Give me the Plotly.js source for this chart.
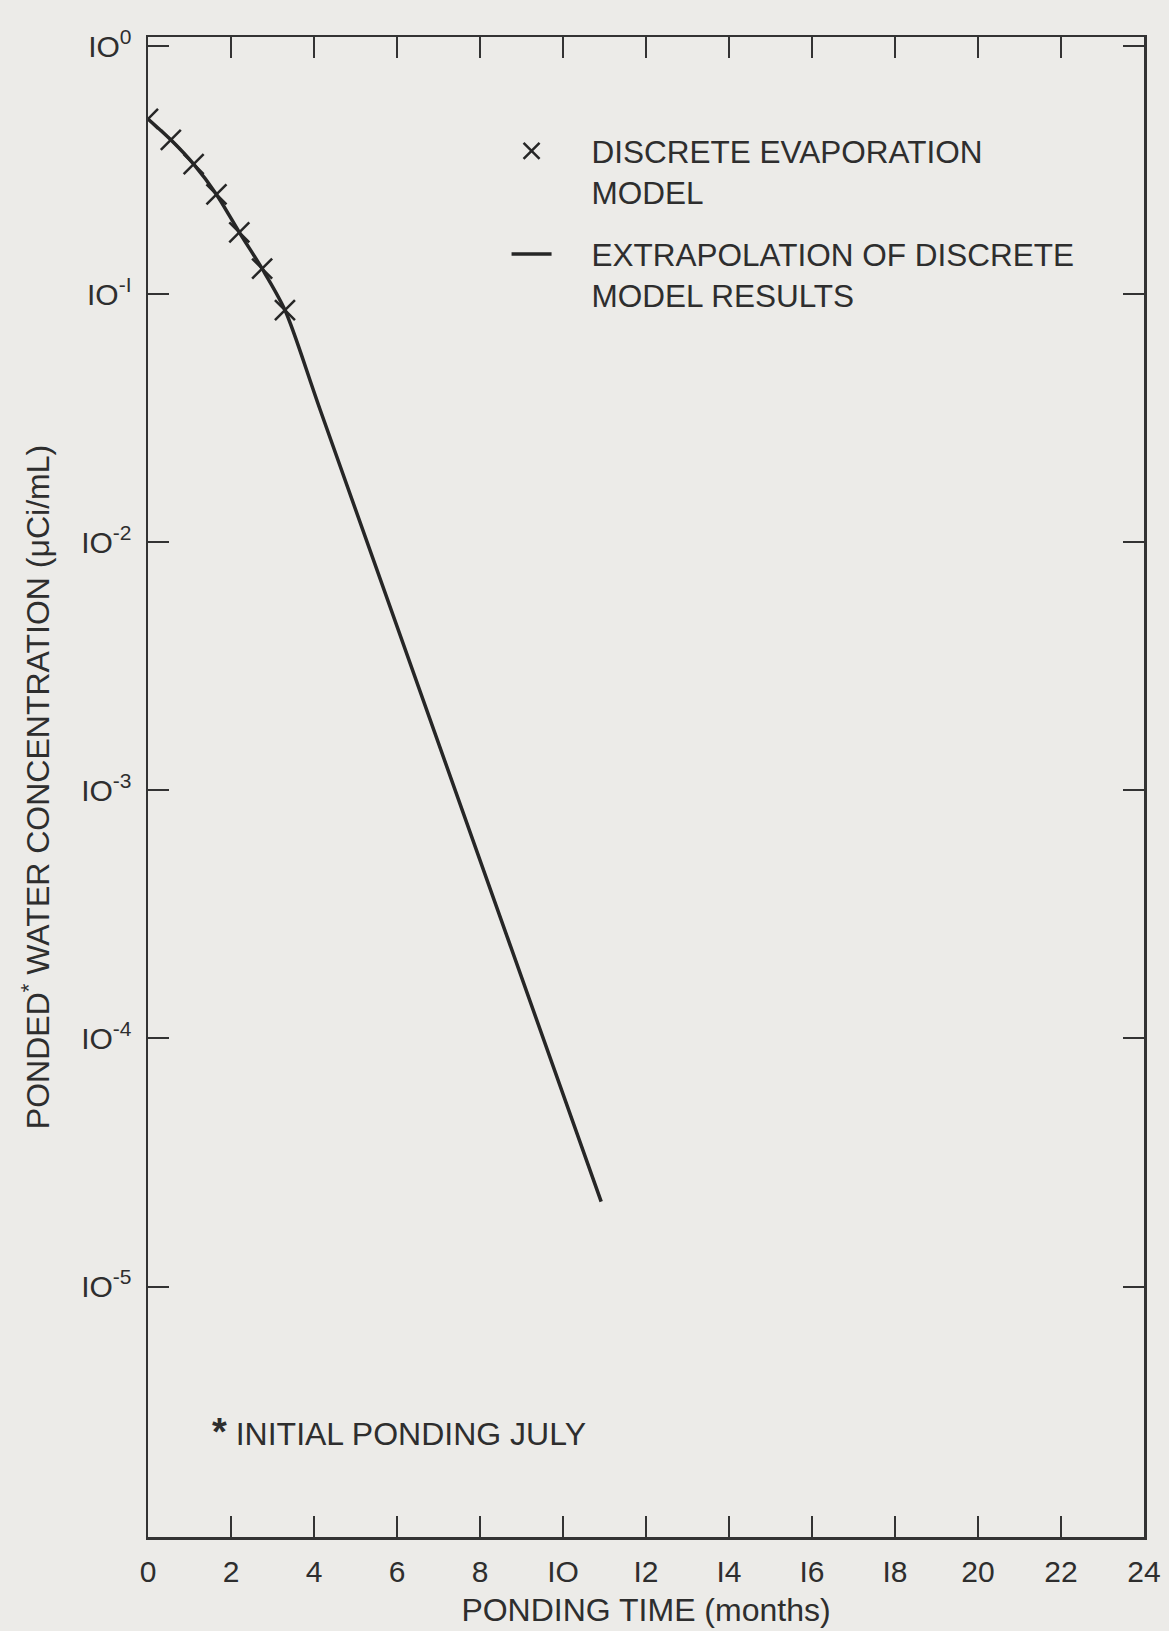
<!DOCTYPE html>
<html>
<head>
<meta charset="utf-8">
<script src="https://cdn.plot.ly/plotly-3.0.1.min.js"></script>
<style>
html,body{margin:0;padding:0;background:#ecebe8;}
#chart{width:1169px;height:1631px;}
</style>
</head>
<body>
<div id="chart"></div>
<script>
// Discrete evaporation model results (x markers)
const discreteTime = [0, 0.55, 1.1, 1.65, 2.2, 2.75, 3.3];
const discreteConc = [0.51, 0.42, 0.335, 0.253, 0.178, 0.127, 0.0865];

// Extrapolation of discrete model results (solid line)
const extrapTime = [0, 0.55, 1.1, 1.65, 2.2, 2.75, 3.3, 4.15, 10.92];
const extrapConc = [0.51, 0.42, 0.335, 0.253, 0.178, 0.127, 0.0865, 0.0342, 0.000022];

// Axis ticks
const xTickVals = [0, 2, 4, 6, 8, 10, 12, 14, 16, 18, 20, 22, 24];
const xTickText = ["0", "2", "4", "6", "8", "IO", "I2", "I4", "I6", "I8", "20", "22", "24"];
const yTickVals = [1, 0.1, 0.01, 0.001, 0.0001, 0.00001];
const yTickText = ["IO<sup>0</sup>", "IO<sup>-I</sup>", "IO<sup>-2</sup>", "IO<sup>-3</sup>", "IO<sup>-4</sup>", "IO<sup>-5</sup>"];

const ink = "#262626";
const FONT = "Liberation Sans, Arial, sans-serif";
const pad = "\u00a0\u00a0\u00a0\u00a0";

const traces = [
  {
    x: discreteTime, y: discreteConc,
    type: "scatter", mode: "markers",
    name: pad + "DISCRETE EVAPORATION<br>" + pad + "MODEL",
    marker: {symbol: "x-thin-open", size: 20, color: ink, line: {width: 2.5, color: ink}},
    legendgroup: "a"
  },
  {
    x: extrapTime, y: extrapConc,
    type: "scatter", mode: "lines",
    name: pad + "EXTRAPOLATION OF DISCRETE<br>" + pad + "MODEL RESULTS",
    line: {color: ink, width: 3.5, shape: "spline", smoothing: 0.8},
    legendgroup: "b"
  }
];

const layout = {
  width: 1169, height: 1631,
  margin: {l: 148, r: 25, t: 37, b: 94},
  paper_bgcolor: "#ecebe8",
  plot_bgcolor: "#ecebe8",
  font: {family: FONT, color: "#2e2e2e", size: 30},
  showlegend: true,
  legend: {
    x: 0.36, xanchor: "left",
    y: 0.942, yanchor: "top",
    valign: "top",
    bgcolor: "rgba(0,0,0,0)",
    font: {family: FONT, size: 31.5, color: "#2e2e2e"},
    tracegroupgap: 18,
    itemwidth: 40
  },
  xaxis: {
    range: [0, 24],
    tickmode: "array", tickvals: xTickVals, ticktext: xTickText,
    ticks: "inside", ticklen: 21, tickwidth: 2, tickcolor: "#333",
    showline: true, linewidth: 2.5, linecolor: "#333", mirror: "ticks",
    showgrid: false, zeroline: false,
    tickfont: {family: FONT, size: 30, color: "#2e2e2e"},
    ticklabelstandoff: 6,
    title: {text: "PONDING TIME (months)", font: {family: FONT, size: 32, color: "#2e2e2e"}, standoff: 12}
  },
  yaxis: {
    type: "log",
    range: [-6.01, 0.038],
    tickmode: "array", tickvals: yTickVals, ticktext: yTickText,
    ticks: "inside", ticklen: 21, tickwidth: 2, tickcolor: "#333",
    showline: true, linewidth: 2.5, linecolor: "#333", mirror: "ticks",
    showgrid: false, zeroline: false,
    tickfont: {family: FONT, size: 30, color: "#2e2e2e"},
    ticklabelstandoff: 8,
    title: {text: "PONDED<sup>*</sup> WATER CONCENTRATION (μCi/mL)", font: {family: FONT, size: 32, color: "#2e2e2e"}, standoff: 22}
  },
  annotations: [
    {
      xref: "paper", yref: "paper",
      x: 0.062, y: (1537 - 1432) / 1500,
      xanchor: "left", yanchor: "middle",
      text: "<span style='font-size:38px;font-weight:bold'>*</span> INITIAL PONDING JULY",
      showarrow: false,
      font: {family: FONT, size: 32, color: "#2e2e2e"}
    }
  ]
};

Plotly.newPlot("chart", traces, layout, {staticPlot: true, displayModeBar: false});
</script>
</body>
</html>
